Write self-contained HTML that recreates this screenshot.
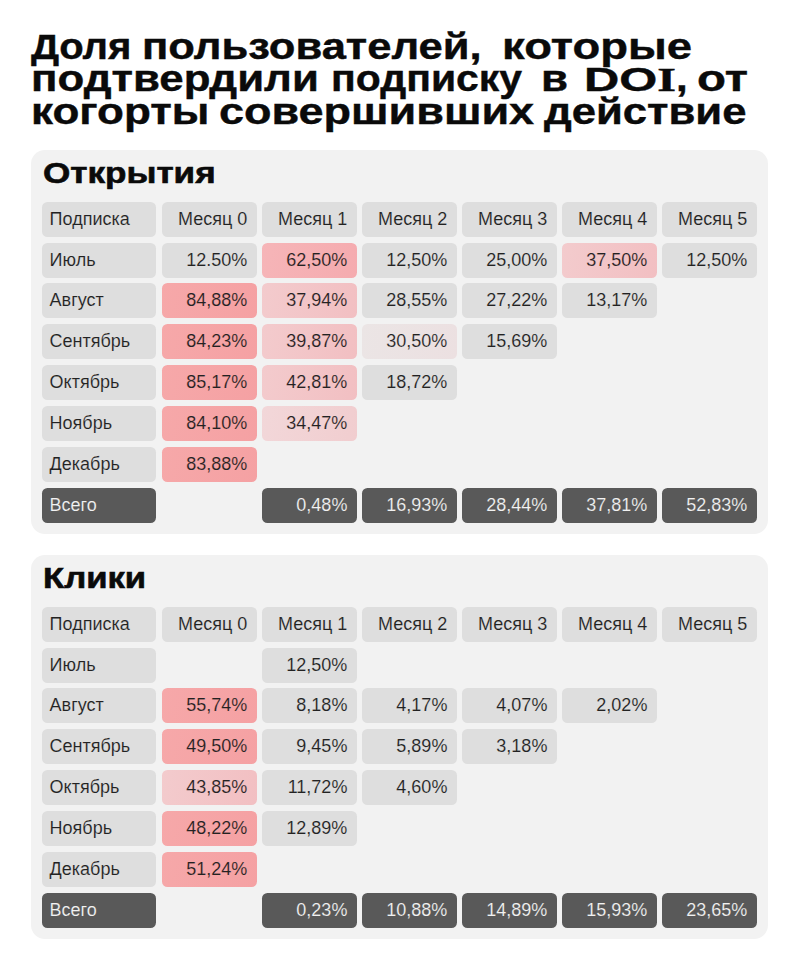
<!DOCTYPE html>
<html><head><meta charset="utf-8">
<style>
html,body{margin:0;padding:0;background:#fff;}
body{width:799px;height:970px;position:relative;overflow:hidden;font-family:"Liberation Sans",sans-serif;}
.t{position:absolute;left:31px;font-weight:bold;font-size:36px;line-height:36px;color:#0a0a0a;white-space:nowrap;transform-origin:0 0;-webkit-text-stroke:0.4px #0a0a0a;}
.capw{display:inline-block;width:79px;font-size:33.5px;}
.capi{display:inline-block;transform:scaleX(1.25);transform-origin:0 0;}
.capd{font-size:35.5px;}
.ser{font-family:"Liberation Serif",serif;font-size:33px;}
.panel{position:absolute;left:31px;width:736.5px;height:384px;background:#f2f2f2;border-radius:14px;}
.ptitle{position:absolute;left:42.5px;-webkit-text-stroke:0.6px #0a0a0a;font-weight:bold;font-size:29px;line-height:32px;color:#0a0a0a;white-space:nowrap;transform-origin:0 0;}
.c{position:absolute;box-sizing:border-box;border-radius:5.5px;display:flex;align-items:center;font-size:18px;white-space:nowrap;}
</style></head><body>
<div class="t" style="left:30.8px;top:28.5px;transform:scaleX(1.1125)"><span class="capd">Д</span>оля</div>
<div class="t" style="left:142.0px;top:28.5px;transform:scaleX(1.2099)">пользователей,</div>
<div class="t" style="left:502.02px;top:28.5px;transform:scaleX(1.2619)">которые</div>
<div class="t" style="left:30.96px;top:61px;transform:scaleX(1.2171)">подтвердили</div>
<div class="t" style="left:331.19px;top:61px;transform:scaleX(1.1372)">подписку</div>
<div class="t" style="left:540.96px;top:61px;transform:scaleX(1.22)">в</div>
<div class="t" style="left:583.7px;top:61px;transform:scaleX(1.166)"><span class="capw"><span class="capi">DO<span class="ser">I</span></span></span>,</div>
<div class="t" style="left:696.82px;top:61px;transform:scaleX(1.3186)">от</div>
<div class="t" style="left:30.98px;top:93.7px;transform:scaleX(1.2225)">когорты</div>
<div class="t" style="left:219.15px;top:93.7px;transform:scaleX(1.2499)">совершивших</div>
<div class="t" style="left:544.2px;top:93.7px;transform:scaleX(1.2126)">действие</div>
<div class="panel" style="top:150px"></div>
<div class="ptitle" style="top:156.5px;transform:scaleX(1.2095)">Открытия</div>
<div class="c " style="left:42.00px;top:201.75px;width:114.40px;height:35.00px;background:#dedede;-webkit-text-stroke:0.15px #dedede;justify-content:flex-start;padding-left:7.6px;color:#222"><span>Подписка</span></div>
<div class="c " style="left:162.00px;top:201.75px;width:95.20px;height:35.00px;background:#dedede;-webkit-text-stroke:0.15px #dedede;justify-content:flex-end;padding-right:9.8px;color:#222"><span>Месяц 0</span></div>
<div class="c " style="left:262.00px;top:201.75px;width:95.20px;height:35.00px;background:#dedede;-webkit-text-stroke:0.15px #dedede;justify-content:flex-end;padding-right:9.8px;color:#222"><span>Месяц 1</span></div>
<div class="c " style="left:362.00px;top:201.75px;width:95.20px;height:35.00px;background:#dedede;-webkit-text-stroke:0.15px #dedede;justify-content:flex-end;padding-right:9.8px;color:#222"><span>Месяц 2</span></div>
<div class="c " style="left:462.00px;top:201.75px;width:95.20px;height:35.00px;background:#dedede;-webkit-text-stroke:0.15px #dedede;justify-content:flex-end;padding-right:9.8px;color:#222"><span>Месяц 3</span></div>
<div class="c " style="left:562.00px;top:201.75px;width:95.20px;height:35.00px;background:#dedede;-webkit-text-stroke:0.15px #dedede;justify-content:flex-end;padding-right:9.8px;color:#222"><span>Месяц 4</span></div>
<div class="c " style="left:662.00px;top:201.75px;width:95.20px;height:35.00px;background:#dedede;-webkit-text-stroke:0.15px #dedede;justify-content:flex-end;padding-right:9.8px;color:#222"><span>Месяц 5</span></div>
<div class="c " style="left:42.00px;top:242.60px;width:114.40px;height:35.00px;background:#dedede;-webkit-text-stroke:0.15px #dedede;justify-content:flex-start;padding-left:7.6px;color:#222"><span>Июль</span></div>
<div class="c " style="left:162.00px;top:242.60px;width:95.20px;height:35.00px;background:#dedede;-webkit-text-stroke:0.15px #dedede;justify-content:flex-end;padding-right:9.8px;color:#222"><span>12.50%</span></div>
<div class="c " style="left:262.00px;top:242.60px;width:95.20px;height:35.00px;background:linear-gradient(100deg,#f6b5b8,#f5abaf);-webkit-text-stroke:0.15px #f5abaf;justify-content:flex-end;padding-right:9.8px;color:#222"><span>62,50%</span></div>
<div class="c " style="left:362.00px;top:242.60px;width:95.20px;height:35.00px;background:#dedede;-webkit-text-stroke:0.15px #dedede;justify-content:flex-end;padding-right:9.8px;color:#222"><span>12,50%</span></div>
<div class="c " style="left:462.00px;top:242.60px;width:95.20px;height:35.00px;background:#dedede;-webkit-text-stroke:0.15px #dedede;justify-content:flex-end;padding-right:9.8px;color:#222"><span>25,00%</span></div>
<div class="c " style="left:562.00px;top:242.60px;width:95.20px;height:35.00px;background:linear-gradient(100deg,#f3cbcd,#f2bfc2);-webkit-text-stroke:0.15px #f2bfc2;justify-content:flex-end;padding-right:9.8px;color:#222"><span>37,50%</span></div>
<div class="c " style="left:662.00px;top:242.60px;width:95.20px;height:35.00px;background:#dedede;-webkit-text-stroke:0.15px #dedede;justify-content:flex-end;padding-right:9.8px;color:#222"><span>12,50%</span></div>
<div class="c " style="left:42.00px;top:283.45px;width:114.40px;height:35.00px;background:#dedede;-webkit-text-stroke:0.15px #dedede;justify-content:flex-start;padding-left:7.6px;color:#222"><span>Август</span></div>
<div class="c " style="left:162.00px;top:283.45px;width:95.20px;height:35.00px;background:linear-gradient(100deg,#f6a8a9,#f5a1a3);-webkit-text-stroke:0.15px #f5a1a3;justify-content:flex-end;padding-right:9.8px;color:#222"><span>84,88%</span></div>
<div class="c " style="left:262.00px;top:283.45px;width:95.20px;height:35.00px;background:linear-gradient(100deg,#f3cbcd,#f2bfc2);-webkit-text-stroke:0.15px #f2bfc2;justify-content:flex-end;padding-right:9.8px;color:#222"><span>37,94%</span></div>
<div class="c " style="left:362.00px;top:283.45px;width:95.20px;height:35.00px;background:#dedede;-webkit-text-stroke:0.15px #dedede;justify-content:flex-end;padding-right:9.8px;color:#222"><span>28,55%</span></div>
<div class="c " style="left:462.00px;top:283.45px;width:95.20px;height:35.00px;background:#dedede;-webkit-text-stroke:0.15px #dedede;justify-content:flex-end;padding-right:9.8px;color:#222"><span>27,22%</span></div>
<div class="c " style="left:562.00px;top:283.45px;width:95.20px;height:35.00px;background:#dedede;-webkit-text-stroke:0.15px #dedede;justify-content:flex-end;padding-right:9.8px;color:#222"><span>13,17%</span></div>
<div class="c " style="left:42.00px;top:324.30px;width:114.40px;height:35.00px;background:#dedede;-webkit-text-stroke:0.15px #dedede;justify-content:flex-start;padding-left:7.6px;color:#222"><span>Сентябрь</span></div>
<div class="c " style="left:162.00px;top:324.30px;width:95.20px;height:35.00px;background:linear-gradient(100deg,#f6a8a9,#f5a1a3);-webkit-text-stroke:0.15px #f5a1a3;justify-content:flex-end;padding-right:9.8px;color:#222"><span>84,23%</span></div>
<div class="c " style="left:262.00px;top:324.30px;width:95.20px;height:35.00px;background:linear-gradient(100deg,#f3cbcd,#f2bfc2);-webkit-text-stroke:0.15px #f2bfc2;justify-content:flex-end;padding-right:9.8px;color:#222"><span>39,87%</span></div>
<div class="c " style="left:362.00px;top:324.30px;width:95.20px;height:35.00px;background:linear-gradient(100deg,#ebe5e5,#ece0e1);-webkit-text-stroke:0.15px #ece0e1;justify-content:flex-end;padding-right:9.8px;color:#222"><span>30,50%</span></div>
<div class="c " style="left:462.00px;top:324.30px;width:95.20px;height:35.00px;background:#dedede;-webkit-text-stroke:0.15px #dedede;justify-content:flex-end;padding-right:9.8px;color:#222"><span>15,69%</span></div>
<div class="c " style="left:42.00px;top:365.15px;width:114.40px;height:35.00px;background:#dedede;-webkit-text-stroke:0.15px #dedede;justify-content:flex-start;padding-left:7.6px;color:#222"><span>Октябрь</span></div>
<div class="c " style="left:162.00px;top:365.15px;width:95.20px;height:35.00px;background:linear-gradient(100deg,#f6a8a9,#f5a1a3);-webkit-text-stroke:0.15px #f5a1a3;justify-content:flex-end;padding-right:9.8px;color:#222"><span>85,17%</span></div>
<div class="c " style="left:262.00px;top:365.15px;width:95.20px;height:35.00px;background:linear-gradient(100deg,#f3cbcd,#f2bfc2);-webkit-text-stroke:0.15px #f2bfc2;justify-content:flex-end;padding-right:9.8px;color:#222"><span>42,81%</span></div>
<div class="c " style="left:362.00px;top:365.15px;width:95.20px;height:35.00px;background:#dedede;-webkit-text-stroke:0.15px #dedede;justify-content:flex-end;padding-right:9.8px;color:#222"><span>18,72%</span></div>
<div class="c " style="left:42.00px;top:406.00px;width:114.40px;height:35.00px;background:#dedede;-webkit-text-stroke:0.15px #dedede;justify-content:flex-start;padding-left:7.6px;color:#222"><span>Ноябрь</span></div>
<div class="c " style="left:162.00px;top:406.00px;width:95.20px;height:35.00px;background:linear-gradient(100deg,#f6a8a9,#f5a1a3);-webkit-text-stroke:0.15px #f5a1a3;justify-content:flex-end;padding-right:9.8px;color:#222"><span>84,10%</span></div>
<div class="c " style="left:262.00px;top:406.00px;width:95.20px;height:35.00px;background:linear-gradient(100deg,#f2d7d9,#f1cdcf);-webkit-text-stroke:0.15px #f1cdcf;justify-content:flex-end;padding-right:9.8px;color:#222"><span>34,47%</span></div>
<div class="c " style="left:42.00px;top:446.85px;width:114.40px;height:35.00px;background:#dedede;-webkit-text-stroke:0.15px #dedede;justify-content:flex-start;padding-left:7.6px;color:#222"><span>Декабрь</span></div>
<div class="c " style="left:162.00px;top:446.85px;width:95.20px;height:35.00px;background:linear-gradient(100deg,#f6a8a9,#f5a1a3);-webkit-text-stroke:0.15px #f5a1a3;justify-content:flex-end;padding-right:9.8px;color:#222"><span>83,88%</span></div>
<div class="c " style="left:42.00px;top:487.70px;width:114.40px;height:35.00px;background:#595959;-webkit-text-stroke:0.15px #595959;justify-content:flex-start;padding-left:7.6px;color:#f2f2f2"><span>Всего</span></div>
<div class="c " style="left:262.00px;top:487.70px;width:95.20px;height:35.00px;background:#595959;-webkit-text-stroke:0.15px #595959;justify-content:flex-end;padding-right:9.8px;color:#f2f2f2"><span>0,48%</span></div>
<div class="c " style="left:362.00px;top:487.70px;width:95.20px;height:35.00px;background:#595959;-webkit-text-stroke:0.15px #595959;justify-content:flex-end;padding-right:9.8px;color:#f2f2f2"><span>16,93%</span></div>
<div class="c " style="left:462.00px;top:487.70px;width:95.20px;height:35.00px;background:#595959;-webkit-text-stroke:0.15px #595959;justify-content:flex-end;padding-right:9.8px;color:#f2f2f2"><span>28,44%</span></div>
<div class="c " style="left:562.00px;top:487.70px;width:95.20px;height:35.00px;background:#595959;-webkit-text-stroke:0.15px #595959;justify-content:flex-end;padding-right:9.8px;color:#f2f2f2"><span>37,81%</span></div>
<div class="c " style="left:662.00px;top:487.70px;width:95.20px;height:35.00px;background:#595959;-webkit-text-stroke:0.15px #595959;justify-content:flex-end;padding-right:9.8px;color:#f2f2f2"><span>52,83%</span></div>
<div class="panel" style="top:555px"></div>
<div class="ptitle" style="top:561.5px;transform:scaleX(1.195)">Клики</div>
<div class="c " style="left:42.00px;top:606.75px;width:114.40px;height:35.00px;background:#dedede;-webkit-text-stroke:0.15px #dedede;justify-content:flex-start;padding-left:7.6px;color:#222"><span>Подписка</span></div>
<div class="c " style="left:162.00px;top:606.75px;width:95.20px;height:35.00px;background:#dedede;-webkit-text-stroke:0.15px #dedede;justify-content:flex-end;padding-right:9.8px;color:#222"><span>Месяц 0</span></div>
<div class="c " style="left:262.00px;top:606.75px;width:95.20px;height:35.00px;background:#dedede;-webkit-text-stroke:0.15px #dedede;justify-content:flex-end;padding-right:9.8px;color:#222"><span>Месяц 1</span></div>
<div class="c " style="left:362.00px;top:606.75px;width:95.20px;height:35.00px;background:#dedede;-webkit-text-stroke:0.15px #dedede;justify-content:flex-end;padding-right:9.8px;color:#222"><span>Месяц 2</span></div>
<div class="c " style="left:462.00px;top:606.75px;width:95.20px;height:35.00px;background:#dedede;-webkit-text-stroke:0.15px #dedede;justify-content:flex-end;padding-right:9.8px;color:#222"><span>Месяц 3</span></div>
<div class="c " style="left:562.00px;top:606.75px;width:95.20px;height:35.00px;background:#dedede;-webkit-text-stroke:0.15px #dedede;justify-content:flex-end;padding-right:9.8px;color:#222"><span>Месяц 4</span></div>
<div class="c " style="left:662.00px;top:606.75px;width:95.20px;height:35.00px;background:#dedede;-webkit-text-stroke:0.15px #dedede;justify-content:flex-end;padding-right:9.8px;color:#222"><span>Месяц 5</span></div>
<div class="c " style="left:42.00px;top:647.60px;width:114.40px;height:35.00px;background:#dedede;-webkit-text-stroke:0.15px #dedede;justify-content:flex-start;padding-left:7.6px;color:#222"><span>Июль</span></div>
<div class="c " style="left:262.00px;top:647.60px;width:95.20px;height:35.00px;background:#dedede;-webkit-text-stroke:0.15px #dedede;justify-content:flex-end;padding-right:9.8px;color:#222"><span>12,50%</span></div>
<div class="c " style="left:42.00px;top:688.45px;width:114.40px;height:35.00px;background:#dedede;-webkit-text-stroke:0.15px #dedede;justify-content:flex-start;padding-left:7.6px;color:#222"><span>Август</span></div>
<div class="c " style="left:162.00px;top:688.45px;width:95.20px;height:35.00px;background:linear-gradient(100deg,#f6a8a9,#f5a1a3);-webkit-text-stroke:0.15px #f5a1a3;justify-content:flex-end;padding-right:9.8px;color:#222"><span>55,74%</span></div>
<div class="c " style="left:262.00px;top:688.45px;width:95.20px;height:35.00px;background:#dedede;-webkit-text-stroke:0.15px #dedede;justify-content:flex-end;padding-right:9.8px;color:#222"><span>8,18%</span></div>
<div class="c " style="left:362.00px;top:688.45px;width:95.20px;height:35.00px;background:#dedede;-webkit-text-stroke:0.15px #dedede;justify-content:flex-end;padding-right:9.8px;color:#222"><span>4,17%</span></div>
<div class="c " style="left:462.00px;top:688.45px;width:95.20px;height:35.00px;background:#dedede;-webkit-text-stroke:0.15px #dedede;justify-content:flex-end;padding-right:9.8px;color:#222"><span>4,07%</span></div>
<div class="c " style="left:562.00px;top:688.45px;width:95.20px;height:35.00px;background:#dedede;-webkit-text-stroke:0.15px #dedede;justify-content:flex-end;padding-right:9.8px;color:#222"><span>2,02%</span></div>
<div class="c " style="left:42.00px;top:729.30px;width:114.40px;height:35.00px;background:#dedede;-webkit-text-stroke:0.15px #dedede;justify-content:flex-start;padding-left:7.6px;color:#222"><span>Сентябрь</span></div>
<div class="c " style="left:162.00px;top:729.30px;width:95.20px;height:35.00px;background:linear-gradient(100deg,#f6a8a9,#f5a1a3);-webkit-text-stroke:0.15px #f5a1a3;justify-content:flex-end;padding-right:9.8px;color:#222"><span>49,50%</span></div>
<div class="c " style="left:262.00px;top:729.30px;width:95.20px;height:35.00px;background:#dedede;-webkit-text-stroke:0.15px #dedede;justify-content:flex-end;padding-right:9.8px;color:#222"><span>9,45%</span></div>
<div class="c " style="left:362.00px;top:729.30px;width:95.20px;height:35.00px;background:#dedede;-webkit-text-stroke:0.15px #dedede;justify-content:flex-end;padding-right:9.8px;color:#222"><span>5,89%</span></div>
<div class="c " style="left:462.00px;top:729.30px;width:95.20px;height:35.00px;background:#dedede;-webkit-text-stroke:0.15px #dedede;justify-content:flex-end;padding-right:9.8px;color:#222"><span>3,18%</span></div>
<div class="c " style="left:42.00px;top:770.15px;width:114.40px;height:35.00px;background:#dedede;-webkit-text-stroke:0.15px #dedede;justify-content:flex-start;padding-left:7.6px;color:#222"><span>Октябрь</span></div>
<div class="c " style="left:162.00px;top:770.15px;width:95.20px;height:35.00px;background:linear-gradient(100deg,#f3cbcd,#f2bfc2);-webkit-text-stroke:0.15px #f2bfc2;justify-content:flex-end;padding-right:9.8px;color:#222"><span>43,85%</span></div>
<div class="c " style="left:262.00px;top:770.15px;width:95.20px;height:35.00px;background:#dedede;-webkit-text-stroke:0.15px #dedede;justify-content:flex-end;padding-right:9.8px;color:#222"><span>11,72%</span></div>
<div class="c " style="left:362.00px;top:770.15px;width:95.20px;height:35.00px;background:#dedede;-webkit-text-stroke:0.15px #dedede;justify-content:flex-end;padding-right:9.8px;color:#222"><span>4,60%</span></div>
<div class="c " style="left:42.00px;top:811.00px;width:114.40px;height:35.00px;background:#dedede;-webkit-text-stroke:0.15px #dedede;justify-content:flex-start;padding-left:7.6px;color:#222"><span>Ноябрь</span></div>
<div class="c " style="left:162.00px;top:811.00px;width:95.20px;height:35.00px;background:linear-gradient(100deg,#f6a8a9,#f5a1a3);-webkit-text-stroke:0.15px #f5a1a3;justify-content:flex-end;padding-right:9.8px;color:#222"><span>48,22%</span></div>
<div class="c " style="left:262.00px;top:811.00px;width:95.20px;height:35.00px;background:#dedede;-webkit-text-stroke:0.15px #dedede;justify-content:flex-end;padding-right:9.8px;color:#222"><span>12,89%</span></div>
<div class="c " style="left:42.00px;top:851.85px;width:114.40px;height:35.00px;background:#dedede;-webkit-text-stroke:0.15px #dedede;justify-content:flex-start;padding-left:7.6px;color:#222"><span>Декабрь</span></div>
<div class="c " style="left:162.00px;top:851.85px;width:95.20px;height:35.00px;background:linear-gradient(100deg,#f6a8a9,#f5a1a3);-webkit-text-stroke:0.15px #f5a1a3;justify-content:flex-end;padding-right:9.8px;color:#222"><span>51,24%</span></div>
<div class="c " style="left:42.00px;top:892.70px;width:114.40px;height:35.00px;background:#595959;-webkit-text-stroke:0.15px #595959;justify-content:flex-start;padding-left:7.6px;color:#f2f2f2"><span>Всего</span></div>
<div class="c " style="left:262.00px;top:892.70px;width:95.20px;height:35.00px;background:#595959;-webkit-text-stroke:0.15px #595959;justify-content:flex-end;padding-right:9.8px;color:#f2f2f2"><span>0,23%</span></div>
<div class="c " style="left:362.00px;top:892.70px;width:95.20px;height:35.00px;background:#595959;-webkit-text-stroke:0.15px #595959;justify-content:flex-end;padding-right:9.8px;color:#f2f2f2"><span>10,88%</span></div>
<div class="c " style="left:462.00px;top:892.70px;width:95.20px;height:35.00px;background:#595959;-webkit-text-stroke:0.15px #595959;justify-content:flex-end;padding-right:9.8px;color:#f2f2f2"><span>14,89%</span></div>
<div class="c " style="left:562.00px;top:892.70px;width:95.20px;height:35.00px;background:#595959;-webkit-text-stroke:0.15px #595959;justify-content:flex-end;padding-right:9.8px;color:#f2f2f2"><span>15,93%</span></div>
<div class="c " style="left:662.00px;top:892.70px;width:95.20px;height:35.00px;background:#595959;-webkit-text-stroke:0.15px #595959;justify-content:flex-end;padding-right:9.8px;color:#f2f2f2"><span>23,65%</span></div>
</body></html>
